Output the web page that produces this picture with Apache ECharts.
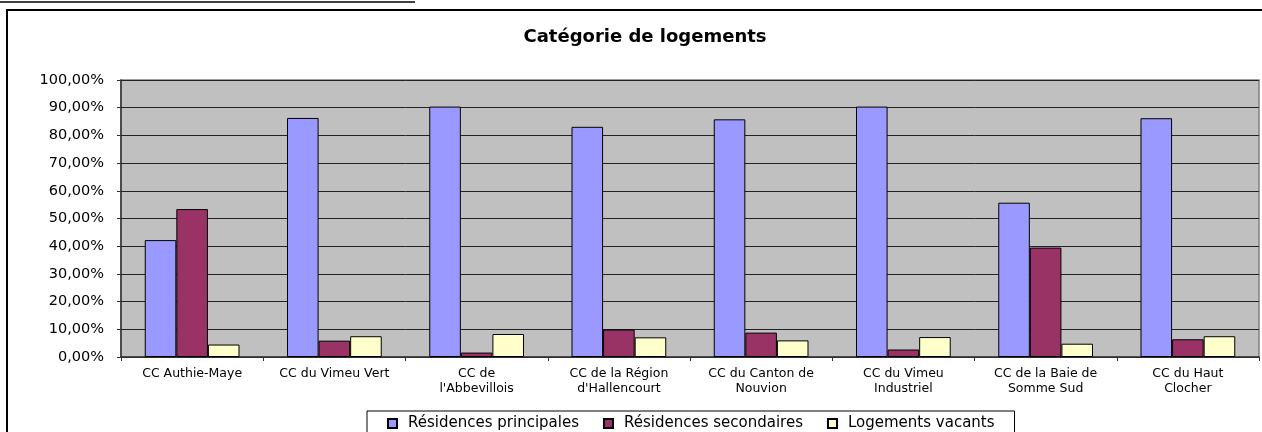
<!DOCTYPE html>
<html>
<head>
<meta charset="utf-8">
<script src="https://cdn.jsdelivr.net/npm/echarts@6/dist/echarts.min.js"></script>
<style>
  html, body { margin: 0; padding: 0; background: #fff; }
  #chart { width: 1262px; height: 432px; }
</style>
</head>
<body>
<div id="chart"></div>
<script>
// categories (communautés de communes)
const categories = [
  'CC Authie-Maye',
  'CC du Vimeu Vert',
  'CC de\nl\'Abbevillois',
  'CC de la Région\nd\'Hallencourt',
  'CC du Canton de\nNouvion',
  'CC du Vimeu\nIndustriel',
  'CC de la Baie de\nSomme Sud',
  'CC du Haut\nClocher'
]
// values in %
const principales = [42.2, 86.3, 90.4, 83.1, 85.8, 90.4, 55.7, 86.2]
const secondaires = [53.4, 5.9, 1.6, 9.9, 8.8, 2.7, 39.5, 6.4]
const vacants = [4.5, 7.5, 8.3, 7.1, 6.0, 7.2, 4.8, 7.5]
const seriesNames = ['Résidences principales', 'Résidences secondaires', 'Logements vacants']

const font = 'DejaVu Sans'

let charts = echarts.init(document.getElementById('chart'))

function barSeries(name, data, color) {
  return {
    name: name,
    type: 'bar',
    barGap: '0%',
    barCategoryGap: '33.4%',
    itemStyle: {
      color: color,
      borderColor: '#000',
      borderWidth: 1
    },
    data: data
  }
}

let option = {
  animation: false,
  backgroundColor: '#fff',
  title: {
    text: 'Catégorie de logements',
    left: 640,
    textAlign: 'center',
    top: 23,
    textStyle: {
      fontFamily: font,
      fontWeight: 'bold',
      fontSize: 18,
      color: '#000'
    }
  },
  graphic: [
    // outer chart frame
    {
      type: 'rect',
      shape: { x: 7, y: 10, width: 1300, height: 500 },
      style: { fill: 'none', stroke: '#000', lineWidth: 2 },
      z: 0
    },
    // underline of the heading above (cut off)
    {
      type: 'line',
      shape: { x1: 0, y1: 2, x2: 415, y2: 2 },
      style: { stroke: '#000', lineWidth: 1.5 }
    }
  ],
  legend: {
    data: seriesNames,
    left: 367,
    top: 411,
    orient: 'horizontal',
    icon: 'rect',
    itemWidth: 9,
    itemHeight: 9,
    itemGap: 24,
    padding: [5, 20, 10, 20],
    borderColor: '#000',
    borderWidth: 1,
    backgroundColor: '#fff',
    textStyle: {
      fontFamily: font,
      fontSize: 15,
      color: '#000',
      padding: [0, 0, 0, 6]
    }
  },
  grid: {
    left: 121,
    right: 3,
    top: 80,
    bottom: 75,
    show: true,
    backgroundColor: '#c0c0c0',
    borderColor: '#808080',
    borderWidth: 1.5
  },
  xAxis: {
    type: 'category',
    data: categories,
    axisLine: { lineStyle: { color: '#333', width: 1.5 } },
    axisTick: { show: true, length: 4, lineStyle: { color: '#333' } },
    axisLabel: {
      interval: 0,
      margin: 9,
      lineHeight: 15,
      fontFamily: font,
      fontSize: 12.5,
      color: '#000'
    }
  },
  yAxis: {
    type: 'value',
    min: 0,
    max: 100,
    interval: 10,
    axisLine: { show: true, lineStyle: { color: '#333', width: 1.5 } },
    axisTick: { show: true, length: 4, lineStyle: { color: '#333' } },
    splitLine: { show: true, lineStyle: { color: '#222', width: 1 } },
    axisLabel: {
      margin: 17,
      fontFamily: font,
      fontSize: 14.5,
      color: '#000',
      formatter: function (v) {
        return v.toFixed(2).replace('.', ',') + '%'
      }
    }
  },
  series: [
    barSeries(seriesNames[0], principales, '#9999ff'),
    barSeries(seriesNames[1], secondaires, '#993366'),
    barSeries(seriesNames[2], vacants, '#ffffcc')
  ]
}
charts.setOption(option)
</script>
</body>
</html>
